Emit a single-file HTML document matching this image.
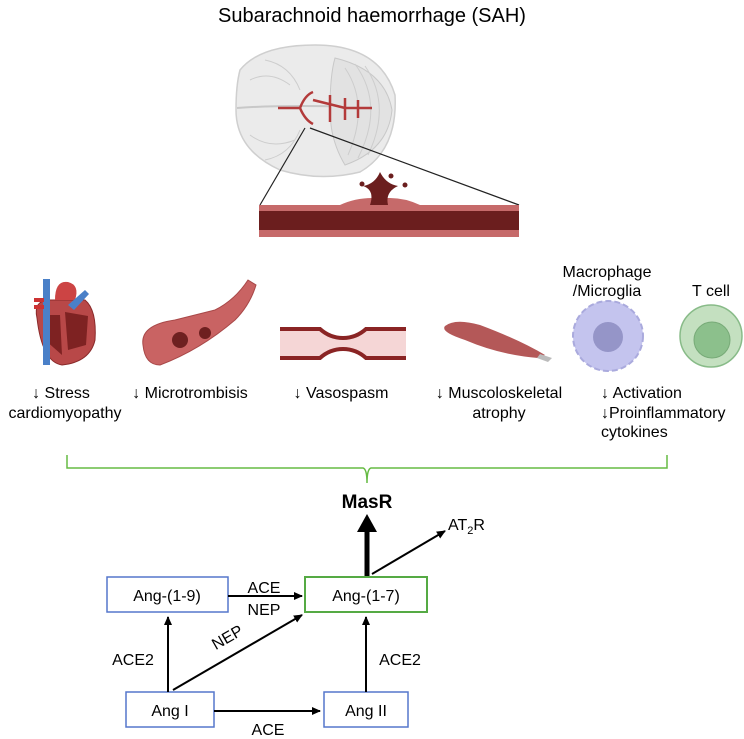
<!DOCTYPE html>
<html><head><meta charset="utf-8"><style>
html,body{margin:0;padding:0;background:#fff;}
svg{display:block;}
text{font-family:"Liberation Sans",Arial,sans-serif;fill:#000;}
</style></head><body>
<svg width="744" height="739" viewBox="0 0 744 739" xmlns="http://www.w3.org/2000/svg">
<defs>
<marker id="ah" markerWidth="10" markerHeight="10" refX="8" refY="5" orient="auto" markerUnits="userSpaceOnUse">
<path d="M0,1 L9,5 L0,9 Z" fill="#000"/></marker>
</defs>
<text x="372" y="22" font-size="20" text-anchor="middle">Subarachnoid haemorrhage (SAH)</text>

<!-- brain -->
<path d="M240,70 Q260,45 315,45 Q380,45 395,95 Q398,150 360,172 Q320,182 280,170 Q236,150 236,110 Q236,85 240,70 Z" fill="#ebebeb" stroke="#cfcfcf" stroke-width="1.5"/>
<path d="M237,108 Q290,104 392,108" stroke="#c8c8c8" fill="none" stroke-width="2"/>
<path d="M335,58 Q385,70 392,110 Q388,150 345,165 Q330,140 330,110 Q330,75 335,58 Z" fill="#e2e2e2" stroke="#c8c8c8"/>
<path d="M345,68 Q370,105 348,155 M355,64 Q385,105 358,158 M365,66 Q392,105 368,155 M250,80 Q270,70 290,85 M250,135 Q270,150 295,140 M265,60 Q290,65 300,90 M265,160 Q290,155 300,130" stroke="#cdcdcd" fill="none"/>
<path d="M278,108 L300,108 Q305,95 313,92 M300,108 Q305,120 313,124 M313,100 L345,108 L372,108 M330,95 L330,122 M345,98 L345,120 M358,100 L358,118" stroke="#b33a3a" stroke-width="2.5" fill="none"/>

<!-- zoom lines -->
<line x1="260" y1="205" x2="305" y2="128" stroke="#222" stroke-width="1.2"/>
<line x1="519" y1="205" x2="310" y2="128" stroke="#222" stroke-width="1.2"/>

<!-- vessel -->
<path d="M259,205 L340,205 Q355,198 372,198 L380,198 L390,198 Q405,198 420,205 L519,205 L519,237 L259,237 Z" fill="#c66a6a"/>
<rect x="259" y="211" width="260" height="19" fill="#6b1e1e"/>
<path d="M370,205 Q375,190 363,186 Q375,184 380,172 Q386,184 398,186 Q385,192 388,205 Z" fill="#6b1e1e"/>
<circle cx="362" cy="184" r="2.5" fill="#6b1e1e"/><circle cx="391" cy="176" r="2.5" fill="#6b1e1e"/><circle cx="405" cy="185" r="2.5" fill="#6b1e1e"/>

<!-- heart -->
<path d="M37,318 Q33,300 50,300 L85,300 Q97,310 95,340 Q90,362 62,365 Q42,362 37,318 Z" fill="#b84848" stroke="#8a2a2a"/>
<path d="M45,315 L60,315 L62,355 L45,340 Z M65,312 L88,316 L86,345 L68,350 Z" fill="#7e2222"/>
<rect x="43" y="279" width="7" height="86" fill="#4a80c8"/>
<path d="M55,300 Q55,280 68,282 Q80,285 75,300 Z" fill="#c44"/>
<path d="M68,305 L85,290 L89,294 L74,310 Z" fill="#4a80c8"/>
<rect x="34" y="298" width="10" height="4" fill="#c33"/><rect x="34" y="305" width="10" height="4" fill="#c33"/>

<!-- microthrombus vessel -->
<path d="M143,345 Q140,325 175,320 L215,310 Q235,300 248,280 L256,285 Q250,305 235,320 Q200,350 160,365 Q145,365 143,345 Z" fill="#c96363" stroke="#a84848"/>
<circle cx="180" cy="340" r="8" fill="#6e2020"/><circle cx="205" cy="333" r="6" fill="#6e2020"/>

<!-- vasospasm -->
<path d="M280,329 L320,329 Q330,338 343,338 Q356,338 366,329 L406,329 L406,358 L366,358 Q356,349 343,349 Q330,349 320,358 L280,358 Z" fill="#f5d6d6"/>
<path d="M280,329 L320,329 Q330,338 343,338 Q356,338 366,329 L406,329" stroke="#8a2424" stroke-width="4" fill="none"/>
<path d="M280,358 L320,358 Q330,349 343,349 Q356,349 366,358 L406,358" stroke="#8a2424" stroke-width="4" fill="none"/>

<!-- muscle -->
<path d="M445,326 Q455,318 480,325 Q520,340 545,355 L538,358 Q500,355 465,340 Q440,332 445,326 Z" fill="#b45858"/>
<path d="M540,354 L552,358 L548,362 L537,358 Z" fill="#bbb"/>

<!-- macrophage -->
<circle cx="608" cy="336" r="35" fill="#c4c4ee" stroke="#aaaadd" stroke-width="2" stroke-dasharray="6 3"/>
<circle cx="608" cy="337" r="15" fill="#9595c8"/>
<!-- T cell -->
<circle cx="711" cy="336" r="31" fill="#c4e0c0" stroke="#88bb88" stroke-width="1.5"/>
<circle cx="712" cy="340" r="18" fill="#8cc08c" stroke="#77aa77"/>

<g font-size="16">
<text x="607" y="277" text-anchor="middle">Macrophage</text>
<text x="607" y="296" text-anchor="middle">/Microglia</text>
<text x="711" y="296" text-anchor="middle">T cell</text>
<text x="61" y="398" text-anchor="middle">↓ Stress</text>
<text x="65" y="418" text-anchor="middle">cardiomyopathy</text>
<text x="190" y="398" text-anchor="middle">↓ Microtrombisis</text>
<text x="341" y="398" text-anchor="middle">↓ Vasospasm</text>
<text x="499" y="398" text-anchor="middle">↓ Muscoloskeletal</text>
<text x="499" y="418" text-anchor="middle">atrophy</text>
<text x="601" y="398">↓ Activation</text>
<text x="601" y="418">↓Proinflammatory</text>
<text x="601" y="437">cytokines</text>
</g>

<!-- brace -->
<path d="M67,455 L67,468 L363,468 Q367,469 367,483 Q367,469 371,468 L667,468 L667,455" stroke="#66bb44" stroke-width="1.5" fill="none"/>

<!-- diagram -->
<text x="367" y="508" font-size="19" font-weight="bold" text-anchor="middle">MasR</text>
<line x1="367" y1="576" x2="367" y2="528" stroke="#000" stroke-width="5"/>
<path d="M357,532 L367,514 L377,532 Z" fill="#000"/>
<line x1="372" y1="574" x2="445" y2="531" stroke="#000" stroke-width="2" marker-end="url(#ah)"/>
<text x="448" y="530" font-size="16">AT<tspan font-size="11" dy="4">2</tspan><tspan dy="-4">R</tspan></text>

<rect x="107" y="577" width="121" height="35" fill="#fff" stroke="#5577cc" stroke-width="1.5"/>
<text x="167" y="601" font-size="16" text-anchor="middle">Ang-(1-9)</text>
<rect x="305" y="577" width="122" height="35" fill="#fff" stroke="#55aa44" stroke-width="2"/>
<text x="366" y="601" font-size="16" text-anchor="middle">Ang-(1-7)</text>
<rect x="126" y="692" width="88" height="35" fill="#fff" stroke="#5577cc" stroke-width="1.5"/>
<text x="170" y="716" font-size="16" text-anchor="middle">Ang I</text>
<rect x="324" y="692" width="84" height="35" fill="#fff" stroke="#5577cc" stroke-width="1.5"/>
<text x="366" y="716" font-size="16" text-anchor="middle">Ang II</text>

<g stroke="#000" stroke-width="2" fill="none">
<line x1="228" y1="596" x2="302" y2="596" marker-end="url(#ah)"/>
<line x1="168" y1="692" x2="168" y2="617" marker-end="url(#ah)"/>
<line x1="173" y1="690" x2="302" y2="615" marker-end="url(#ah)"/>
<line x1="366" y1="692" x2="366" y2="617" marker-end="url(#ah)"/>
<line x1="214" y1="711" x2="320" y2="711" marker-end="url(#ah)"/>
</g>
<g font-size="16">
<text x="264" y="593" text-anchor="middle">ACE</text>
<text x="264" y="615" text-anchor="middle">NEP</text>
<text x="133" y="665" text-anchor="middle">ACE2</text>
<text x="400" y="665" text-anchor="middle">ACE2</text>
<text x="268" y="735" text-anchor="middle">ACE</text>
<text x="230" y="642" text-anchor="middle" transform="rotate(-30 230 642)">NEP</text>
</g>
</svg>
</body></html>
